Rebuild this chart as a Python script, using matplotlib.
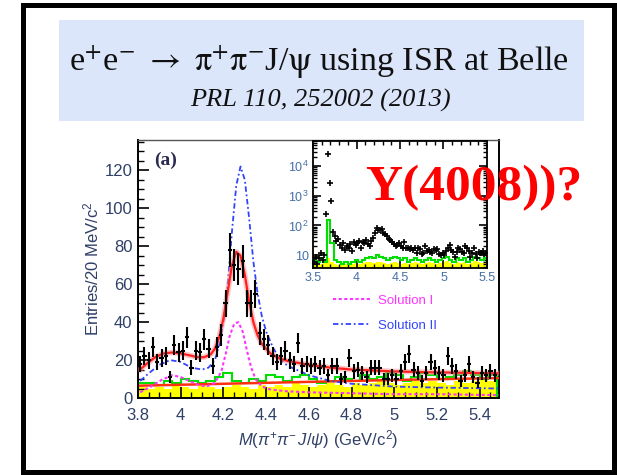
import numpy as np
import matplotlib
matplotlib.use("Agg")
import matplotlib.pyplot as plt
from matplotlib.patches import Rectangle
from matplotlib.ticker import MultipleLocator, FixedLocator, FixedFormatter, NullFormatter, LogLocator

# ------------------------------------------------------------------
# Data: Belle ISR e+e- -> pi+ pi- J/psi, 20 MeV bins
# ------------------------------------------------------------------
bin_w = 0.02
main_lo = 3.81
main_counts = [
    18, 22, 20, 27, 19, 21, 22, 11, 28, 24,
    25, 32, 16, 25, 24, 31, 26, 17, 27, 33,
    50, 78, 70, 68, 72, 50, 50, 55, 34, 31,
    28, 22, 19, 22, 25, 20, 18, 29, 17, 18,
    17, 18, 16, 17, 12, 17, 17, 10, 11, 21,
    14, 15, 13, 11, 16, 16, 16, 10, 10, 12,
    10, 14, 19, 23, 15, 13, 9, 13, 19, 16,
    13, 12, 22, 17, 14, 9, 12, 18, 11, 8,
    13, 12, 14, 12,
]

# background histograms (40 MeV steps)
bkg_w = 0.04
green_bkg = [8, 8, 7, 9, 8, 10, 9, 8, 9, 11, 13, 9, 8, 10, 9, 12, 11, 9, 11, 12, 10,
             8, 9, 11, 10, 9, 12, 10, 11, 13, 12, 9, 11, 13, 12, 10, 11, 12, 14, 12, 10, 12]
yellow_bkg = [6, 5, 6, 5, 7, 6, 5, 7, 6, 5, 6, 7, 6, 5, 7, 6, 7, 6, 8, 7, 6,
              7, 8, 7, 6, 8, 7, 8, 9, 8, 7, 8, 9, 8, 9, 8, 7, 9, 8, 9, 10, 9]

# fit curves (knots)
fit_x = [3.81, 3.84, 3.88, 3.92, 3.96, 4.00, 4.04, 4.08, 4.11, 4.14, 4.16, 4.18, 4.20, 4.22,
         4.24, 4.26, 4.28, 4.30, 4.32, 4.34, 4.36, 4.38, 4.42, 4.46, 4.50, 4.60, 4.70, 4.80,
         4.90, 5.00, 5.20, 5.49]
fit_total = [15, 18, 21.5, 23.5, 24, 23.5, 22.5, 21.5, 21.5, 23, 26, 32, 42, 56,
             70, 77, 75, 65, 51, 40, 33, 28.5, 23.5, 21, 19.5, 17.5, 16, 15,
             14.5, 14, 13.5, 13]

sol2_x = [3.81, 3.85, 3.90, 3.95, 4.00, 4.05, 4.10, 4.13, 4.16, 4.18, 4.20, 4.22, 4.24, 4.26,
          4.28, 4.30, 4.32, 4.34, 4.36, 4.38, 4.40, 4.43, 4.46, 4.50, 4.60, 4.70, 4.80, 5.00,
          5.20, 5.49]
sol2_y = [9, 13, 17.5, 20, 19, 16, 15, 16, 20, 28, 40, 60, 88, 112,
          122, 115, 95, 72, 55, 43, 35, 27, 21, 17, 12, 9, 7.5, 6,
          5.5, 5]

sol1_x = [3.81, 3.86, 3.91, 3.96, 4.00, 4.04, 4.08, 4.12, 4.16, 4.19, 4.21, 4.23, 4.25, 4.27,
          4.29, 4.31, 4.33, 4.35, 4.38, 4.42, 4.50, 4.60, 4.80, 5.00, 5.20, 5.49]
sol1_y = [3, 6, 9.5, 12, 11, 9, 7, 6, 8, 14, 23, 33, 39, 40,
          35, 25, 16, 10, 6, 4.5, 3.5, 3, 2.5, 2, 2, 1.5]

bkg_line_x = [3.81, 4.2, 4.6, 5.0, 5.49]
bkg_line_y = [6.5, 7.5, 8.5, 9.5, 10.5]

# inset: wide mass range, log scale
inset_lo = 3.51
inset_counts = [
    6, 9, 5, 8, 12, 7, 10, 250, 25000, 2700,
    650, 60, 45, 30, 35, 22, 18, 25, 15, 20,
    17, 23, 14, 28, 22, 25, 30, 18, 27, 25,
    32, 24, 20, 30, 38, 55, 80, 72, 70, 75,
    55, 52, 45, 36, 32, 28, 24, 20, 22, 26,
    20, 18, 28, 17, 18, 16, 18, 15, 17, 12,
    17, 16, 11, 12, 20, 14, 15, 13, 12, 16,
    15, 16, 11, 10, 12, 10, 14, 18, 22, 15,
    13, 9, 13, 18, 16, 13, 12, 21, 17, 14,
    9, 12, 17, 11, 8, 13, 12, 14, 11, 12,
]
inset_green = [7, 6, 8, 6, 150, 25, 7, 6, 5, 6, 5, 6, 7, 6, 7, 8, 9, 8, 10, 9, 8, 7, 8, 9, 8,
               7, 8, 6, 7, 8, 7, 6, 7, 8, 7, 6, 7, 8, 9, 7, 6, 8, 7, 8, 6, 7, 9, 8, 7, 8]
inset_yellow = [5, 4.5, 5, 5.5, 8, 6, 5, 4.5, 4.5, 5, 4.5, 5, 5.5, 5, 5.5, 6, 6, 5.5, 6, 6,
                5.5, 5, 5.5, 6, 5.5, 5, 5.5, 5, 5.5, 6, 5.5, 5, 5.5, 6, 5.5, 5, 5.5, 6, 6.5, 5.5,
                5, 6, 5.5, 6, 5, 5.5, 6.5, 6, 5.5, 6]

main_xticks = [3.8, 4.0, 4.2, 4.4, 4.6, 4.8, 5.0, 5.2, 5.4]
main_xticklabels = ["3.8", "4", "4.2", "4.4", "4.6", "4.8", "5", "5.2", "5.4"]
inset_xticks = [3.5, 4.0, 4.5, 5.0, 5.5]
inset_xticklabels = ["3.5", "4", "4.5", "5", "5.5"]
inset_yticks = [10, 100, 1000, 10000]
inset_yticklabels = ["10", "$10^{2}$", "$10^{3}$", "$10^{4}$"]

# ------------------------------------------------------------------
# Style
# ------------------------------------------------------------------
plt.rcParams.update({
    "font.family": ["Liberation Sans", "DejaVu Sans"],
    "mathtext.fontset": "custom",
    "mathtext.rm": "Liberation Sans",
    "mathtext.it": "Liberation Sans:italic",
    "mathtext.bf": "Liberation Sans:bold",
})
tick_col = "#2f3f66"
inset_tick_col = "#4670a8"

fig = plt.figure(figsize=(6.17, 4.75), dpi=100)

# slide frame and title box
fig.patches.append(Rectangle((0.0365, 0.0053), 0.958, 0.984, transform=fig.transFigure,
                             fill=False, edgecolor="black", lw=3.6, zorder=0))
fig.patches.append(Rectangle((0.0956, 0.7453), 0.851, 0.2126, transform=fig.transFigure,
                             facecolor="#dbe6fa", edgecolor="none", zorder=0))

fig.text(0.517, 0.853,
         r"e$^{+}$e$^{-}$ $\rightarrow$ $\mathrm{\pi}^{+}\mathrm{\pi}^{-}$J/$\mathrm{\psi}$ using ISR at Belle",
         ha="center", va="baseline", fontsize=24.5, family="Liberation Serif",
         math_fontfamily="stix", color="#111111")
fig.text(0.519, 0.775, "PRL 110, 252002 (2013)", ha="center", va="baseline",
         fontsize=19, family="Liberation Serif", style="italic", color="#111111")

# ------------------------------------------------------------------
# Main panel
# ------------------------------------------------------------------
ax = fig.add_axes([0.2237, 0.1621, 0.585, 0.5432])

centers = main_lo + bin_w * np.arange(len(main_counts))
counts = np.array(main_counts, dtype=float)

bkg_edges = main_lo - bin_w / 2 + bkg_w * np.arange(len(green_bkg) + 1)
ax.stairs(yellow_bkg, bkg_edges, fill=True, color="#ffff00", zorder=1)
ax.stairs(green_bkg, bkg_edges, color="#00e000", lw=1.5, zorder=2)

ax.plot(bkg_line_x, bkg_line_y, color="#ff3010", lw=1.8, zorder=3)
ax.plot(sol1_x, sol1_y, color="#ff33ff", lw=1.5, ls=(0, (1.5, 1.2)), zorder=3,
        label="Solution I")
ax.plot(sol2_x, sol2_y, color="#3344ff", lw=1.3, ls=(0, (3, 1.5, 1, 1.5)), zorder=3,
        label="Solution II")
ax.plot(fit_x, fit_total, color="#ff9090", lw=4, alpha=0.5, zorder=3)
ax.plot(fit_x, fit_total, color="#ff2020", lw=1.6, zorder=3.5)

ax.errorbar(centers, counts, yerr=np.sqrt(counts), xerr=bin_w / 2, fmt="none",
            ecolor="black", elinewidth=1.5, capsize=0, zorder=4)

ax.set_xlim(3.8, 5.49)
ax.set_ylim(0, 136)
ax.xaxis.set_major_locator(FixedLocator(main_xticks))
ax.xaxis.set_major_formatter(FixedFormatter(main_xticklabels))
ax.xaxis.set_minor_locator(MultipleLocator(0.05))
ax.yaxis.set_major_locator(MultipleLocator(20))
ax.yaxis.set_minor_locator(MultipleLocator(5))
ax.tick_params(which="both", direction="in", labelsize=12, labelcolor=tick_col)
ax.tick_params(which="major", length=8, width=1.2)
ax.tick_params(which="minor", length=4, width=1.0)
ax.tick_params(axis="y", pad=4)
ax.tick_params(axis="x", pad=7)
for side in ["left", "bottom", "right"]:
    ax.spines[side].set_linewidth(1.4)
ax.spines["top"].set_linewidth(1.0)
ax.spines["top"].set_color("#555555")

ax.set_ylabel("Entries/20 MeV/c$^{2}$", fontsize=12, color=tick_col, labelpad=2)
ax.set_xlabel(r"$M(\pi^{+}\pi^{-}\,J/\psi)$ (GeV/c$^{2}$)", fontsize=12,
              color=tick_col, labelpad=4)

ax.text(0.045, 0.922, "(a)", transform=ax.transAxes, ha="left", va="center",
        fontsize=14, fontweight="bold", family="Liberation Serif", color="#2a2a50")

leg = ax.legend(loc="upper left", bbox_to_anchor=(0.54, 0.40), frameon=False,
                fontsize=9.5, borderpad=0, borderaxespad=0, handlelength=2.8,
                handletextpad=0.6, labelspacing=0.95)
for txt, col in zip(leg.get_texts(), ["#ff33ff", "#3344ff"]):
    txt.set_color(col)

# ------------------------------------------------------------------
# Inset: full range on log scale
# ------------------------------------------------------------------
ins = fig.add_axes([0.5073, 0.4358, 0.282, 0.2674])
ins_centers = inset_lo + bin_w * np.arange(len(inset_counts))
ins_edges = inset_lo - bin_w / 2 + bkg_w * np.arange(len(inset_green) + 1)
ins.stairs(inset_yellow, ins_edges, fill=True, color="#ffff00", zorder=1,
           baseline=1)
ins.stairs(inset_green, ins_edges, color="#00e000", lw=1.5, zorder=2, baseline=1)
ins.plot(ins_centers, inset_counts, ls="none", marker="+", ms=4, mew=1.2,
         color="black", zorder=3)

ins.set_yscale("log")
ins.set_xlim(3.5, 5.5)
ins.set_ylim(3.7, 7e4)
ins.xaxis.set_major_locator(FixedLocator(inset_xticks))
ins.xaxis.set_major_formatter(FixedFormatter(inset_xticklabels))
ins.xaxis.set_minor_locator(MultipleLocator(0.1))
ins.yaxis.set_major_locator(FixedLocator(inset_yticks))
ins.yaxis.set_major_formatter(FixedFormatter(inset_yticklabels))
ins.yaxis.set_minor_locator(LogLocator(base=10, subs=np.arange(2, 10)))
ins.yaxis.set_minor_formatter(NullFormatter())
ins.tick_params(which="both", direction="in", top=True, right=True,
                labelsize=9, labelcolor=inset_tick_col, pad=3)
ins.tick_params(which="major", length=6, width=1.2)
ins.tick_params(which="minor", length=3, width=1.0)
for side in ins.spines.values():
    side.set_linewidth(1.3)

# annotation
fig.text(0.5916, 0.5789, "Y(4008))?", ha="left", va="baseline", fontsize=37,
         fontweight="bold", family="Liberation Serif", color="#ff0000", zorder=10)

fig.savefig("out.png", dpi=100)
